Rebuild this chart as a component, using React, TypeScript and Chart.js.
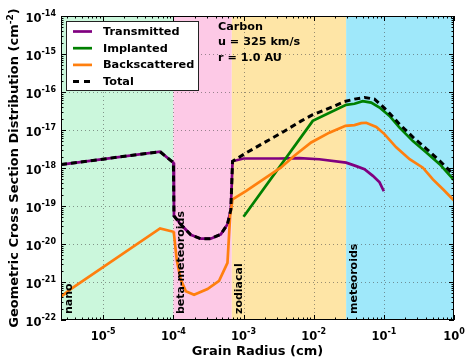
import React, { useEffect, useRef } from "react";
import { Chart, registerables } from "chart.js";

Chart.register(...registerables);

// ---------------- data ----------------
const xMin = 2.5e-6;
const xMax = 1;
const yMin = 1e-22;
const yMax = 1e-14;

const regionEdges = [2.5e-6, 1e-4, 6.8e-4, 2.9e-2, 1];
const regionNames = ["nano", "beta-meteoroids", "zodiacal", "meteoroids"];

const seriesNames = ["Transmitted", "Implanted", "Backscattered", "Total"];

const transX = [2.5e-6, 6.46e-5, 1.0e-4, 1.02e-4, 1.27e-4, 1.77e-4, 2.45e-4, 3.41e-4, 4.74e-4, 5.9e-4, 6.59e-4, 6.97e-4, 1.0e-3, 3.16e-3, 6.25e-3, 1.2e-2, 2.9e-2, 4.04e-2, 5.3e-2, 6.97e-2, 8.69e-2, 1.0e-1];
const transY = [1.23e-18, 2.69e-18, 1.38e-18, 5.5e-20, 3.3e-20, 1.75e-20, 1.38e-20, 1.38e-20, 1.8e-20, 3.3e-20, 8.1e-20, 1.5e-18, 1.78e-18, 1.78e-18, 1.82e-18, 1.7e-18, 1.38e-18, 1.12e-18, 9.3e-19, 6.2e-19, 4.2e-19, 2.45e-19];

const implX = [1e-3, 9.7e-3, 2.9e-2, 3.81e-2, 5.0e-2, 6.6e-2, 8.69e-2, 0.1205, 0.1675, 0.2594, 0.4036, 0.625, 1];
const implY = [5.2e-20, 1.74e-17, 4.6e-17, 4.9e-17, 5.75e-17, 5.25e-17, 3.9e-17, 2.34e-17, 1.15e-17, 5.1e-18, 2.57e-18, 1.26e-18, 4.8e-19];

const backX = [2.5e-6, 3.36e-6, 6.46e-5, 1.0e-4, 1.02e-4, 1.117e-4, 1.27e-4, 1.5e-4, 1.97e-4, 3.06e-4, 4.48e-4, 5.9e-4, 6.44e-4, 6.97e-4, 1.08e-3, 2.08e-3, 3.39e-3, 5.3e-3, 9.2e-3, 1.67e-2, 2.84e-2, 3.81e-2, 4.75e-2, 5.6e-2, 7.8e-2, 0.102, 0.15, 0.233, 0.36, 0.5, 0.697, 1];
const backY = [4.1e-22, 6.3e-22, 2.57e-20, 2.1e-20, 1.8e-20, 3.8e-21, 1.17e-21, 5.75e-22, 4.6e-22, 6.5e-22, 1.07e-21, 3.2e-21, 5.5e-20, 1.5e-19, 2.45e-19, 5.6e-19, 1.02e-18, 2.1e-18, 4.7e-18, 8.5e-18, 1.29e-17, 1.35e-17, 1.51e-17, 1.55e-17, 1.2e-17, 7.8e-18, 3.5e-18, 1.7e-18, 1.02e-18, 5e-19, 2.75e-19, 1.4e-19];

const totalX = [2.5e-6, 6.46e-5, 1.0e-4, 1.02e-4, 1.27e-4, 1.77e-4, 2.45e-4, 3.41e-4, 4.74e-4, 5.9e-4, 6.59e-4, 6.97e-4, 1.09e-3, 3.66e-3, 6.67e-3, 9.55e-3, 1.87e-2, 2.75e-2, 3.81e-2, 5.3e-2, 7.36e-2, 9.2e-2, 0.1205, 0.1675, 0.2594, 0.4036, 0.625, 1];
const totalY = [1.23e-18, 2.69e-18, 1.38e-18, 5.5e-20, 3.3e-20, 1.75e-20, 1.38e-20, 1.38e-20, 1.8e-20, 3.3e-20, 8.1e-20, 1.5e-18, 2.5e-18, 8.9e-18, 1.74e-17, 2.5e-17, 4.1e-17, 5.6e-17, 6.5e-17, 7.2e-17, 6.5e-17, 4.5e-17, 2.75e-17, 1.42e-17, 6.5e-18, 3.2e-18, 1.55e-18, 6.5e-19];

const xTickExps = [-5, -4, -3, -2, -1, 0];
const yTickExps = [-22, -21, -20, -19, -18, -17, -16, -15, -14];

const annotationLines = ["Carbon", "u = 325 km/s", "r = 1.0 AU"];
const xTitle = "Grain Radius (cm)";
const yTitleMain = "Geometric Cross Section Distribution (cm";
const yTitleSup = "-2";
const yTitleEnd = ")";

// ---------------- styles ----------------
const FONT = "'DejaVu Sans', sans-serif";
const regionColors = ["#cbf7dc", "#fdc9e6", "#fee5a6", "#9fe8fa"];
const seriesColors = ["#800080", "#008000", "#ff7f0e", "#000000"];
const LW = 2.7;
const DASH = [6, 4];

const toPts = (xs: number[], ys: number[]) => xs.map((x, i) => ({ x, y: ys[i] }));

const decorPlugin = {
  id: "decor",
  beforeDatasetsDraw(chart: any) {
    const { ctx, chartArea: a, scales } = chart;
    const x = scales.x;
    const y = scales.y;
    ctx.save();
    for (let i = 0; i < regionNames.length; i++) {
      const x0 = x.getPixelForValue(regionEdges[i]);
      const x1 = x.getPixelForValue(regionEdges[i + 1]);
      ctx.fillStyle = regionColors[i];
      ctx.fillRect(x0, a.top, x1 - x0, a.bottom - a.top);
    }
    // grid
    ctx.strokeStyle = "rgba(70,70,70,0.55)";
    ctx.lineWidth = 1;
    ctx.setLineDash([1, 3]);
    ctx.beginPath();
    for (const e of xTickExps) {
      const px = Math.round(x.getPixelForValue(Math.pow(10, e))) + 0.5;
      if (px <= a.left + 1 || px >= a.right - 1) continue;
      ctx.moveTo(px, a.top);
      ctx.lineTo(px, a.bottom);
    }
    for (const e of yTickExps) {
      const py = Math.round(y.getPixelForValue(Math.pow(10, e))) + 0.5;
      if (py <= a.top + 1 || py >= a.bottom - 1) continue;
      ctx.moveTo(a.left, py);
      ctx.lineTo(a.right, py);
    }
    ctx.stroke();
    ctx.restore();
  },
  afterDatasetsDraw(chart: any) {
    const { ctx, chartArea: a, scales } = chart;
    const x = scales.x;
    const y = scales.y;
    ctx.save();
    ctx.setLineDash([]);
    // region labels
    ctx.fillStyle = "#000";
    ctx.font = `bold 11px ${FONT}`;
    ctx.textAlign = "left";
    ctx.textBaseline = "alphabetic";
    for (let i = 0; i < regionNames.length; i++) {
      const x0 = x.getPixelForValue(regionEdges[i]);
      ctx.save();
      ctx.translate(x0 + 10.5, a.bottom - 6);
      ctx.rotate(-Math.PI / 2);
      ctx.fillText(regionNames[i], 0, 0);
      ctx.restore();
    }
    // frame
    ctx.strokeStyle = "#000";
    ctx.lineWidth = 1;
    ctx.strokeRect(a.left + 0.5, a.top + 0.5, a.right - a.left - 1, a.bottom - a.top - 1);
    // ticks
    ctx.beginPath();
    for (let e = -7; e <= 1; e++) {
      for (let m = 1; m <= 9; m++) {
        const v = m * Math.pow(10, e);
        if (v < xMin * 0.999 || v > xMax * 1.001) continue;
        const px = Math.round(x.getPixelForValue(v)) + 0.5;
        const len = m === 1 ? 5 : 2.5;
        ctx.moveTo(px, a.bottom);
        ctx.lineTo(px, a.bottom - len);
        ctx.moveTo(px, a.top);
        ctx.lineTo(px, a.top + len);
      }
    }
    for (let e = -23; e <= -13; e++) {
      for (let m = 1; m <= 9; m++) {
        const v = m * Math.pow(10, e);
        if (v < yMin * 0.999 || v > yMax * 1.001) continue;
        const py = Math.round(y.getPixelForValue(v)) + 0.5;
        const len = m === 1 ? 5 : 2.5;
        ctx.moveTo(a.left, py);
        ctx.lineTo(a.left + len, py);
        ctx.moveTo(a.right, py);
        ctx.lineTo(a.right - len, py);
      }
    }
    ctx.stroke();

    // tick labels
    const baseFont = `bold 11.5px ${FONT}`;
    const supFont = `bold 8px ${FONT}`;
    ctx.textAlign = "left";
    ctx.textBaseline = "alphabetic";
    for (const e of yTickExps) {
      const py = y.getPixelForValue(Math.pow(10, e));
      const sup = String(e);
      ctx.font = supFont;
      const sw = ctx.measureText(sup).width;
      ctx.font = baseFont;
      const bw = ctx.measureText("10").width;
      const right = a.left - 5;
      ctx.fillText("10", right - sw - bw, py + 5.5);
      ctx.font = supFont;
      ctx.fillText(sup, right - sw, py - 0.5);
    }
    for (const e of xTickExps) {
      const px = x.getPixelForValue(Math.pow(10, e));
      const sup = String(e);
      ctx.font = supFont;
      const sw = ctx.measureText(sup).width;
      ctx.font = baseFont;
      const bw = ctx.measureText("10").width;
      const left = px - (sw + bw) / 2;
      ctx.fillText("10", left, a.bottom + 20);
      ctx.font = supFont;
      ctx.fillText(sup, left + bw, a.bottom + 13.5);
    }

    // axis titles
    ctx.font = `bold 13px ${FONT}`;
    ctx.textAlign = "center";
    ctx.fillText(xTitle, (a.left + a.right) / 2, 355);

    ctx.save();
    ctx.translate(18, (a.top + a.bottom) / 2);
    ctx.rotate(-Math.PI / 2);
    ctx.font = `bold 13px ${FONT}`;
    const w1 = ctx.measureText(yTitleMain).width;
    const w3 = ctx.measureText(yTitleEnd).width;
    ctx.font = `bold 9px ${FONT}`;
    const w2 = ctx.measureText(yTitleSup).width;
    const start = -(w1 + w2 + w3) / 2;
    ctx.textAlign = "left";
    ctx.font = `bold 13px ${FONT}`;
    ctx.fillText(yTitleMain, start, 0);
    ctx.font = `bold 9px ${FONT}`;
    ctx.fillText(yTitleSup, start + w1, -5);
    ctx.font = `bold 13px ${FONT}`;
    ctx.fillText(yTitleEnd, start + w1 + w2, 0);
    ctx.restore();

    // legend
    const lx = 66.5, ly = 21.5, lw = 132, lh = 69;
    ctx.fillStyle = "#fff";
    ctx.fillRect(lx, ly, lw, lh);
    ctx.strokeStyle = "#222";
    ctx.lineWidth = 1;
    ctx.strokeRect(lx, ly, lw, lh);
    ctx.font = `bold 11.3px ${FONT}`;
    ctx.textAlign = "left";
    ctx.textBaseline = "middle";
    for (let i = 0; i < seriesNames.length; i++) {
      const ry = 31.5 + i * 16.7;
      ctx.strokeStyle = seriesColors[i];
      ctx.lineWidth = i === 3 ? 3 : LW;
      ctx.setLineDash(i === 3 ? [6, 5] : []);
      ctx.beginPath();
      ctx.moveTo(73, ry);
      ctx.lineTo(92, ry);
      ctx.stroke();
      ctx.setLineDash([]);
      ctx.fillStyle = "#000";
      ctx.fillText(seriesNames[i], 103, ry + 0.5);
    }

    // annotation
    ctx.font = `bold 11.2px ${FONT}`;
    ctx.fillStyle = "#000";
    for (let i = 0; i < annotationLines.length; i++) {
      ctx.fillText(annotationLines[i], 218, 27 + i * 15.3);
    }
    ctx.restore();
  },
};

export default function App() {
  const ref = useRef<HTMLCanvasElement | null>(null);
  useEffect(() => {
    document.body.style.margin = "0";
    const canvas = ref.current;
    if (!canvas) return;
    const chart = new Chart(canvas, {
      type: "line",
      data: {
        datasets: [
          { label: seriesNames[3], data: toPts(totalX, totalY), borderColor: seriesColors[3], borderWidth: 3, borderDash: DASH, pointRadius: 0, tension: 0, fill: false, order: 0 },
          { label: seriesNames[2], data: toPts(backX, backY), borderColor: seriesColors[2], borderWidth: LW, pointRadius: 0, tension: 0, fill: false, order: 1 },
          { label: seriesNames[1], data: toPts(implX, implY), borderColor: seriesColors[1], borderWidth: LW, pointRadius: 0, tension: 0, fill: false, order: 2 },
          { label: seriesNames[0], data: toPts(transX, transY), borderColor: seriesColors[0], borderWidth: LW, pointRadius: 0, tension: 0, fill: false, order: 3 },
        ],
      },
      options: {
        animation: false,
        responsive: false,
        maintainAspectRatio: false,
        devicePixelRatio: 1,
        layout: { padding: { left: 61, right: 11, top: 16, bottom: 38 } },
        plugins: { legend: { display: false }, tooltip: { enabled: false } },
        scales: {
          x: { type: "logarithmic", min: xMin, max: xMax, display: false },
          y: { type: "logarithmic", min: yMin, max: yMax, display: false },
        },
      },
      plugins: [decorPlugin],
    });
    return () => chart.destroy();
  }, []);
  return (
    <div style={{ width: 465, height: 358 }}>
      <canvas ref={ref} width={465} height={358} style={{ display: "block" }} />
    </div>
  );
}
